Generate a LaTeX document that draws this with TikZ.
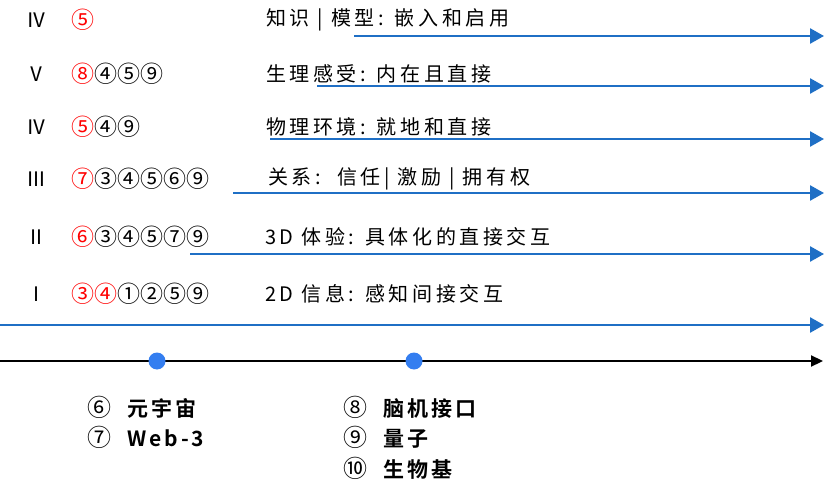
\documentclass[tikz,border=0pt]{standalone}
\usepackage{fontspec}
\setmainfont{Noto Sans CJK SC}
\newfontfamily\cjksp{Noto Sans CJK SC}[LetterSpace=18]
\newfontfamily\cjkb{Noto Sans CJK SC}[BoldFont={* Bold},LetterSpace=14]
\newfontfamily\cjkplain{Noto Sans CJK SC}
\newcommand\cnum[1]{{\cjkplain\mdseries\fontsize{24}{24}\selectfont #1}\hspace{16pt}}
\usetikzlibrary{arrows.meta}
\definecolor{arrblue}{RGB}{31,111,197}
\definecolor{dotblue}{RGB}{52,126,240}
\begin{document}
\begin{tikzpicture}[x=1pt,y=-1pt,
  roman/.style={anchor=center,font=\fontsize{20}{22}\selectfont},
  nums/.style={anchor=west,inner sep=0pt,font=\fontsize{23}{25}\selectfont},
  lbl/.style={anchor=west,inner sep=0pt,font=\cjksp\fontsize{20}{22}\selectfont},
  blbl/.style={anchor=west,inner sep=0pt,font=\cjkb\bfseries\fontsize{21}{23}\selectfont},
  barrow/.style={draw=arrblue,line width=2.6pt,-{Triangle[length=14pt,width=15pt]}},
  axis/.style={draw=black,line width=2.2pt,-{Triangle[length=12pt,width=11pt]}},
  dot/.style={circle,fill=dotblue,inner sep=0pt,minimum size=17pt}]
\useasboundingbox (0,0) rectangle (824,486);
% rows
\node[roman] (r1) at (37,20) {Ⅳ};
\node[nums] (n1) at (71,20) {\textcolor{red}{⑤}};
\node[lbl] (t1) at (266,20) {知识 | 模型: 嵌入和启用};
\node[roman] (r2) at (37,74) {Ⅴ};
\node[nums] (n2) at (71,74) {\textcolor{red}{⑧}④⑤⑨};
\node[lbl] (t2) at (266,74) {生理感受: 内在且直接};
\node[roman] (r3) at (37,127) {Ⅳ};
\node[nums] (n3) at (71,127) {\textcolor{red}{⑤}④⑨};
\node[lbl] (t3) at (266,127) {物理环境: 就地和直接};
\node[roman] (r4) at (37,179) {Ⅲ};
\node[nums] (n4) at (71,179) {\textcolor{red}{⑦}③④⑤⑥⑨};
\node[lbl] (t4) at (268,179) {关系:\ \ 信任| 激励 | 拥有权};
\node[roman] (r5) at (37,237) {Ⅱ};
\node[nums] (n5) at (71,237) {\textcolor{red}{⑥}③④⑤⑦⑨};
\node[lbl] (t5) at (265,237) {3D 体验: 具体化的直接交互};
\node[roman] (r6) at (37,294) {Ⅰ};
\node[nums] (n6) at (71,294) {\textcolor{red}{③④}①②⑤⑨};
\node[lbl] (t6) at (265,294) {2D 信息: 感知间接交互};
% arrow ends
\coordinate (s1) at (354,36);  \coordinate (e1) at (824,36);
\coordinate (s2) at (317,86);  \coordinate (e2) at (824,86);
\coordinate (s3) at (270,139); \coordinate (e3) at (824,139);
\coordinate (s4) at (233,193); \coordinate (e4) at (824,193);
\coordinate (s5) at (190,254); \coordinate (e5) at (824,254);
\coordinate (s6) at (0,325);   \coordinate (e6) at (824,325);
\foreach \i in {1,...,6} {\draw[barrow] (s\i) -- (e\i);}
% axis
\coordinate (a0) at (0,361);
\coordinate (a1) at (823,361);
\draw[axis] (a0) -- (a1);
\node[dot] (d1) at (157,361) {};
\node[dot] (d2) at (414,361) {};
% bottom labels
\node[blbl] (b1) at (87,407) {\cnum{⑥}元宇宙};
\node[blbl] (b2) at (87,437) {\cnum{⑦}Web-3};
\node[blbl] (b3) at (343,407) {\cnum{⑧}脑机接口};
\node[blbl] (b4) at (343,437) {\cnum{⑨}量子};
\node[blbl] (b5) at (343,468) {\cnum{⑩}生物基};
\end{tikzpicture}
\end{document}
